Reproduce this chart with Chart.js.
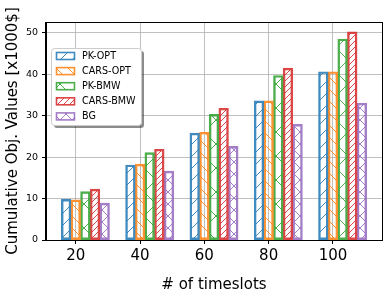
<!DOCTYPE html>
<html>
<head>
<meta charset="utf-8">
<script src="https://cdn.jsdelivr.net/npm/chart.js@4"></script>
<style>
  html, body { margin: 0; padding: 0; background: #fff; }
  #wrap { width: 387px; height: 299px; }
</style>
</head>
<body>
<div id="wrap"><canvas id="chart" width="387" height="299"></canvas></div>
<script>
// ===============================
// DATA
// ===============================
const timeslots = [20, 40, 60, 80, 100];
const seriesNames = ["PK-OPT", "CARS-OPT", "PK-BMW", "CARS-BMW", "BG"];
const pkOpt   = [9.8, 18.1, 25.8, 33.6, 40.6];
const carsOpt = [9.7, 18.3, 26.0, 33.6, 40.6];
const pkBmw   = [11.7, 21.1, 30.3, 39.7, 48.5];
const carsBmw = [12.3, 21.9, 31.8, 41.5, 50.2];
const bg      = [8.9, 16.6, 22.6, 27.9, 33.0];
const yTicks  = [0, 10, 20, 30, 40, 50];

// ===============================
// STYLE
// ===============================
const FONT = "'DejaVu Sans', sans-serif";
const edgeColors = [
  "rgba(31,119,180,0.85)", "rgba(255,127,14,0.85)", "rgba(44,160,44,0.85)",
  "rgba(214,39,40,0.85)", "rgba(148,103,189,0.85)"
];
const hatchKinds = ["/", "\\", "x", "/", "x"];
const hatchSizes = [12, 12, 24, 6, 12];
const BAR_W = 3; // bar width in x units

const canvas = document.getElementById("chart");
const ctx = canvas.getContext("2d");

function makeHatch(color, kind, s) {
  const c = document.createElement("canvas");
  c.width = s;
  c.height = s;
  const g = c.getContext("2d");
  g.strokeStyle = color;
  g.lineWidth = 1;
  g.beginPath();
  for (let k = -s; k <= s; k += s) {
    if (kind === "/" || kind === "x") { g.moveTo(k - 1, s + 1); g.lineTo(k + s + 1, -1); }
    if (kind === "\\" || kind === "x") { g.moveTo(k - 1, -1); g.lineTo(k + s + 1, s + 1); }
  }
  g.stroke();
  return ctx.createPattern(c, "repeat");
}

const patterns = edgeColors.map((c, i) => makeHatch(c, hatchKinds[i], hatchSizes[i]));
const values = [pkOpt, carsOpt, pkBmw, carsBmw, bg];

const datasets = seriesNames.map((name, i) => ({
  label: name,
  data: timeslots.map((t, j) => ({ x: t + (i - 1) * BAR_W, y: values[i][j] })),
  backgroundColor: patterns[i],
  borderColor: edgeColors[i],
  borderWidth: 1.8,
  borderSkipped: false,
  grouped: false,
  categoryPercentage: 1,
  barPercentage: 1
}));

// ===============================
// FRAME + LEGEND
// ===============================
const framePlugin = {
  id: "frame",
  afterDraw(chart) {
    const a = chart.chartArea;
    const c = chart.ctx;
    c.save();
    c.strokeStyle = "#000";
    c.lineWidth = 1;
    c.strokeRect(Math.round(a.left) - 0.5, Math.round(a.top) + 0.5,
      Math.round(a.right - a.left) + 1, Math.round(a.bottom - a.top));

    // legend box
    const bx = 51, by = 48, bw = 90, bh = 77;
    c.fillStyle = "rgba(0,0,0,0.45)";
    c.beginPath();
    c.roundRect(bx + 3, by + 3, bw, bh, 3);
    c.fill();
    c.fillStyle = "#fff";
    c.strokeStyle = "#cccccc";
    c.beginPath();
    c.roundRect(bx + 0.5, by + 0.5, bw, bh, 3);
    c.fill();
    c.stroke();

    c.font = "9.6px " + FONT;
    c.textBaseline = "middle";
    c.textAlign = "left";
    chart.data.datasets.forEach((ds, i) => {
      const cy = 56 + i * 15.1;
      c.fillStyle = ds.backgroundColor;
      c.fillRect(56, cy - 3.5, 19, 7);
      c.strokeStyle = ds.borderColor;
      c.lineWidth = 1.6;
      c.strokeRect(56.5, cy - 3.5, 18, 7);
      c.fillStyle = "#000";
      c.fillText(ds.label, 82, cy + 0.5);
    });
    c.restore();
  }
};

// ===============================
// CHART
// ===============================
const gridOpts = {
  color: "#b0b0b0",
  lineWidth: 0.8,
  tickColor: "#000",
  tickLength: 4,
  tickWidth: 1
};

new Chart(canvas, {
  type: "bar",
  data: { datasets },
  options: {
    responsive: false,
    devicePixelRatio: 1,
    animation: false,
    layout: { padding: { top: 22, right: 5, left: 0, bottom: 0 } },
    plugins: {
      legend: { display: false },
      tooltip: { enabled: false }
    },
    scales: {
      x: {
        type: "linear",
        min: 10.75,
        max: 115.25,
        offset: false,
        grid: { ...gridOpts, offset: false },
        border: { color: "#000", width: 1 },
        afterBuildTicks: s => { s.ticks = timeslots.map(v => ({ value: v })); },
        ticks: {
          color: "#000",
          font: { family: FONT, size: 15 },
          padding: 3,
          maxRotation: 0,
          callback: v => String(v)
        },
        title: {
          display: true,
          text: "# of timeslots",
          color: "#000",
          font: { family: FONT, size: 15 },
          padding: { top: 0, bottom: 5 }
        },
        afterFit: s => { s.height = 59; }
      },
      y: {
        min: 0,
        max: 52.6,
        grid: gridOpts,
        border: { color: "#000", width: 1 },
        afterBuildTicks: s => { s.ticks = yTicks.map(v => ({ value: v })); },
        ticks: {
          color: "#000",
          font: { family: FONT, size: 9.5 },
          padding: 4
        },
        title: {
          display: true,
          text: "Cumulative Obj. Values [x1000$]",
          color: "#000",
          font: { family: FONT, size: 15 },
          padding: { top: 4, bottom: 0 }
        },
        afterFit: s => { s.width = 46; }
      }
    }
  },
  plugins: [framePlugin]
});
</script>
</body>
</html>
